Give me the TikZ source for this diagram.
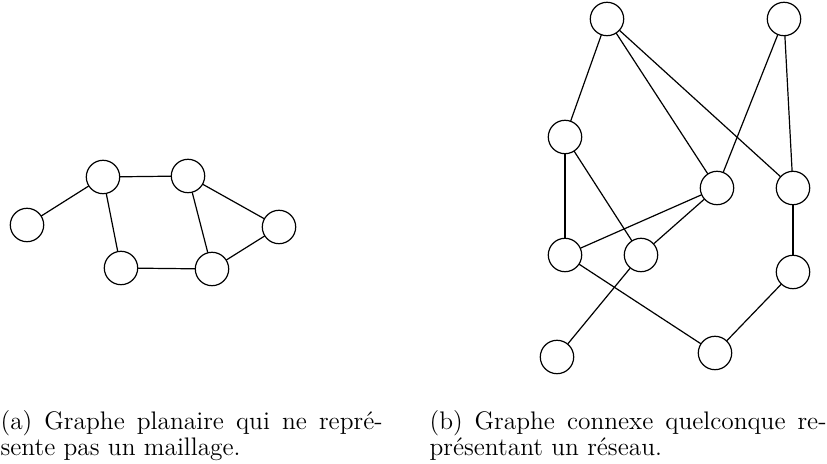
\documentclass[tikz,border=0pt]{standalone}
\usepackage{tikz}

\begin{document}
\begin{tikzpicture}[line cap=round,line join=round,line width=0.6pt,x=0.5pt,y=-0.5pt,
  vertex/.style={circle,draw,minimum size=16.7pt,inner sep=0pt},
  legende/.style={anchor=base west,align=justify,inner sep=0pt,
    font=\fontsize{12.7}{13}\selectfont}]
\useasboundingbox (0,0) rectangle (827,464);

% graphe planaire
\node [vertex] (a1) at (27,225) {};
\node [vertex] (a2) at (103,177) {};
\node [vertex] (a3) at (188,176) {};
\node [vertex] (a4) at (279,227) {};
\node [vertex] (a5) at (121,268) {};
\node [vertex] (a6) at (212,269) {};

\draw (a1) -- (a2) -- (a3) -- (a4) -- (a6) -- (a5) -- (a2);
\draw (a3) -- (a6);

% graphe connexe
\node [vertex] (b1) at (607,19) {};
\node [vertex] (b2) at (784,19) {};
\node [vertex] (b3) at (565,137) {};
\node [vertex] (b4) at (717,188) {};
\node [vertex] (b5) at (793,188) {};
\node [vertex] (b6) at (565,255) {};
\node [vertex] (b7) at (641,255) {};
\node [vertex] (b8) at (793,272) {};
\node [vertex] (b9) at (557,357) {};
\node [vertex] (b10) at (715,353) {};

\draw (b1) -- (b3);
\draw (b1) -- (b4);
\draw (b1) -- (b5);
\draw (b2) -- (b4);
\draw (b2) -- (b5);
\draw (b3) -- (b6);
\draw (b3) -- (b7);
\draw (b4) -- (b6);
\draw (b4) -- (b7);
\draw (b5) -- (b8);
\draw (b6) -- (b10);
\draw (b7) -- (b9);
\draw (b8) -- (b10);

% legendes
\node [legende,text width=191pt] (lega) at (0,430)
  {(a) Graphe planaire qui ne repr\'e-\linebreak sente pas un maillage.};
\node [legende,text width=198.5pt] (legb) at (429,430)
  {(b) Graphe connexe quelconque re-\linebreak pr\'esentant un r\'eseau.};
\end{tikzpicture}
\end{document}
